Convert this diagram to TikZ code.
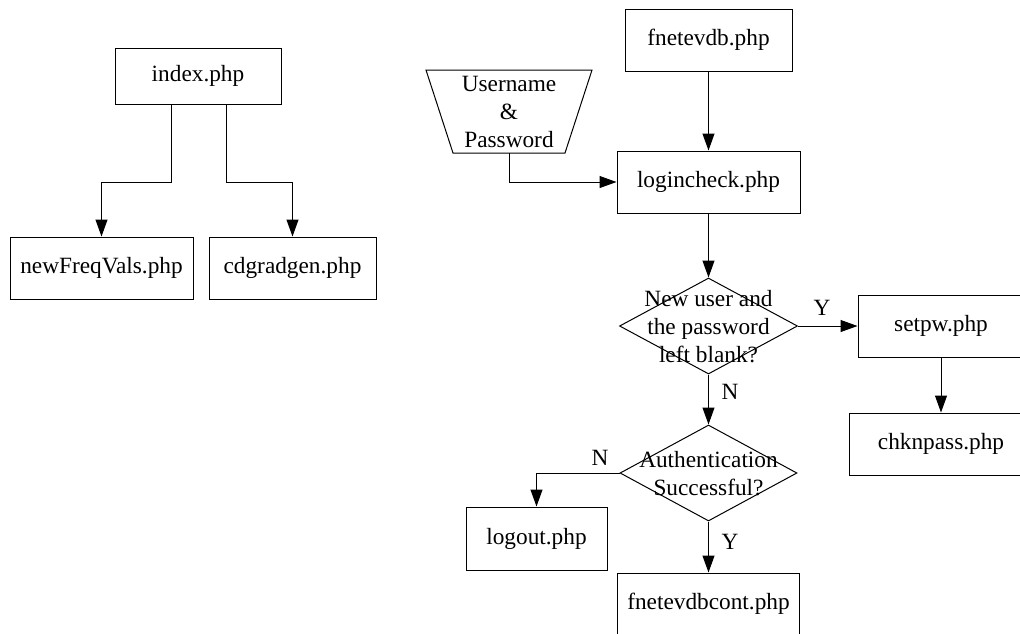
\documentclass[tikz,border=0pt]{standalone}
\usepackage{fontspec}
\setmainfont{Liberation Serif}
\usetikzlibrary{shapes.geometric,arrows.meta}
\begin{document}
\begin{tikzpicture}[x=1pt,y=-1pt,
  every node/.style={font=\fontsize{23.3}{28}\selectfont},
  box/.style={draw,line width=1pt,minimum height=62pt,inner sep=0pt,anchor=center},
  dia/.style={draw,line width=1pt,diamond,inner sep=0pt},
  conn/.style={line width=1pt},
  arr/.style={conn,-{Triangle[length=17pt,width=12pt]}},
  lbl/.style={inner sep=0pt,anchor=center},
  txt/.style={align=center,inner sep=0pt,anchor=center}]
\useasboundingbox (0,0) rectangle (1020,633);
\clip (0,0) rectangle (1020,633);
% left tree
\node[box,minimum width=166pt,minimum height=56pt] (index) at (198,76) {index.php};
\node[box,minimum width=183pt] (nfv) at (101.5,268) {newFreqVals.php};
\node[box,minimum width=167pt] (cdg) at (292.5,268) {cdgradgen.php};
\draw[arr] ([xshift=-27pt]index.south) -- ([xshift=-27pt]index.south |- 0,182) -| (nfv.north);
\draw[arr] ([xshift=28pt]index.south) -- ([xshift=28pt]index.south |- 0,182) -| (cdg.north);
% right flow
\node[box,minimum width=167pt] (fdb) at (708.5,40) {fnetevdb.php};
\node[box,minimum width=183pt] (lc) at (708.5,182) {logincheck.php};
\draw[line width=1pt] (426,70) -- (592,70) -- (565,153) -- (453,153) -- cycle;
\node[txt] (up) at (509,112) {Username\\\&\\Password};
\coordinate (upb) at (509,153);
\node[dia,minimum width=178pt,minimum height=96pt] (d1) at (708.5,326) {};
\node[txt] (d1t) at (708.5,327) {New user and\\the password\\left blank?};
\node[box,minimum width=166pt] (spw) at (941,326) {setpw.php};
\node[box,minimum width=184pt] (chk) at (941,444) {chknpass.php};
\node[dia,minimum width=177pt,minimum height=96pt] (d2) at (708.5,473) {};
\node[txt] (d2t) at (708.5,474) {Authentication\\Successful?};
\node[box,minimum width=141pt,minimum height=63pt] (lo) at (536.5,538.5) {logout.php};
\node[box,minimum width=182pt] (fdc) at (708.5,604) {fnetevdbcont.php};
\draw[arr] (fdb) -- (lc);
\draw[arr] (upb) |- (lc.west);
\draw[arr] (lc.south) -- (d1.north);
\draw[arr] (d1.east) -- (spw.west);
\draw[arr] (spw.south) -- (chk.north);
\draw[arr] (d1.south) -- (d2.north);
\draw[arr] (d2.west) -| (lo.north);
\draw[arr] (d2.south) -- (fdc.north);
\node[lbl] (ly1) at (822,308) {Y};
\node[lbl] (ln1) at (730,392) {N};
\node[lbl] (ln2) at (600,458) {N};
\node[lbl] (ly2) at (730,542) {Y};
\end{tikzpicture}
\end{document}
